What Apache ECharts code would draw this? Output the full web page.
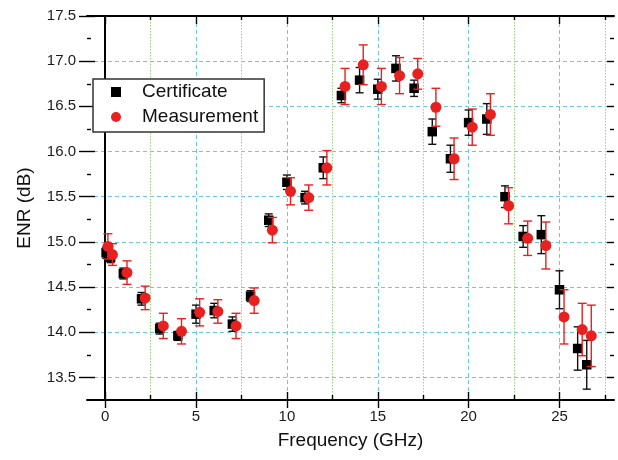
<!DOCTYPE html>
<html>
<head>
<meta charset="utf-8">
<script src="https://cdn.jsdelivr.net/npm/echarts@6/dist/echarts.min.js"></script>
<style>
  html, body { margin: 0; padding: 0; background: #fff; }
  #chart { width: 618px; height: 460px; }
</style>
</head>
<body>
<div id="chart"></div>
<script>
const FONT = 'Liberation Sans, Arial, sans-serif'

// Certificate (black squares)
const certFreq = [0.05, 0.3, 1, 2, 3, 4, 5, 6, 7, 8, 9, 10, 11, 12, 13, 14, 15, 16, 17, 18, 19, 20, 21, 22, 23, 24, 25, 26, 26.5]
const certENR = [14.88, 14.83, 14.65, 14.37, 14.04, 13.96, 14.2, 14.24, 14.09, 14.4, 15.24, 15.66, 15.49, 15.82, 16.62, 16.79, 16.69, 16.92, 16.7, 16.22, 15.92, 16.32, 16.36, 15.5, 15.06, 15.08, 14.47, 13.82, 13.64]
const certErr = [0.06, 0.06, 0.06, 0.07, 0.06, 0.05, 0.1, 0.08, 0.08, 0.06, 0.07, 0.08, 0.07, 0.12, 0.08, 0.14, 0.11, 0.14, 0.09, 0.14, 0.15, 0.14, 0.17, 0.12, 0.12, 0.21, 0.21, 0.24, 0.27]

// Measurement (red circles)
const measFreq = [0.15, 0.4, 1.2, 2.2, 3.2, 4.2, 5.2, 6.2, 7.2, 8.2, 9.2, 10.2, 11.2, 12.2, 13.2, 14.2, 15.2, 16.2, 17.2, 18.2, 19.2, 20.2, 21.2, 22.2, 23.25, 24.25, 25.25, 26.25, 26.75]
const measENR = [14.95, 14.86, 14.66, 14.38, 14.07, 14.01, 14.22, 14.23, 14.07, 14.35, 15.13, 15.56, 15.49, 15.82, 16.72, 16.96, 16.72, 16.84, 16.86, 16.49, 15.92, 16.27, 16.41, 15.4, 15.04, 14.96, 14.17, 14.03, 13.96]
const measErr = [0.14, 0.12, 0.13, 0.13, 0.14, 0.14, 0.15, 0.13, 0.14, 0.14, 0.14, 0.15, 0.14, 0.19, 0.2, 0.22, 0.2, 0.2, 0.17, 0.21, 0.23, 0.2, 0.23, 0.2, 0.19, 0.26, 0.3, 0.29, 0.34]

const xRange = [-1, 28]
const yRange = [13.25, 17.5]
const xMajor = [0, 25, 5]     // min, max, step of labelled ticks
const xMinor = [2.5, 27.5, 5] // green dotted lines
const yMajor = [13.5, 17.5, 0.5]

const CYAN = '#6cc9dc'
const GREEN = '#9ad57f'
const RED = '#e8201f'

// plot box in pixels
const L = 87, R = 4, T = 16, B = 60
const pw = 618 - L - R, ph = 460 - T - B
const kx = pw / (xRange[1] - xRange[0])
const ky = ph / (yRange[1] - yRange[0])

const points = (xs, ys) => xs.map((x, i) => [x, ys[i]])
const bars = (xs, ys, es) => xs.map((x, i) => [x, ys[i], ys[i] - es[i], ys[i] + es[i]])

function errorBar(color, cap) {
  return function (params, api) {
    const x = api.value(0)
    const lo = api.coord([x, api.value(2)])
    const hi = api.coord([x, api.value(3)])
    const style = { stroke: color, lineWidth: 1.4 }
    return {
      type: 'group',
      children: [
        { type: 'line', shape: { x1: lo[0], y1: lo[1], x2: hi[0], y2: hi[1] }, style },
        { type: 'line', shape: { x1: lo[0] - cap, y1: lo[1], x2: lo[0] + cap, y2: lo[1] }, style },
        { type: 'line', shape: { x1: hi[0] - cap, y1: hi[1], x2: hi[0] + cap, y2: hi[1] }, style },
      ],
    }
  }
}

const label = { fontFamily: FONT, fontSize: 15, color: '#1a1a1a' }
const tick = (inside, length) => ({ show: true, inside, length, lineStyle: { color: '#000', width: 1.4 } })
const boxLine = { show: true, lineStyle: { color: '#000', width: 2 } }
const off = { show: false }

const myChart = echarts.init(document.getElementById('chart'))

const options = {
  animation: false,
  grid: [
    // main grid with data
    { left: L, right: R, top: T, bottom: B, outerBoundsMode: 'none', containLabel: false },
    // labelled x ticks and cyan verticals
    { left: L + (xMajor[0] - xRange[0]) * kx, right: R + (xRange[1] - xMajor[1]) * kx, top: T, bottom: B, outerBoundsMode: 'none', containLabel: false },
    // green dotted verticals
    { left: L + (xMinor[0] - xRange[0]) * kx, right: R + (xRange[1] - xMinor[1]) * kx, top: T, bottom: B, outerBoundsMode: 'none', containLabel: false },
    // labelled y ticks and cyan horizontals
    { left: L, right: R, top: T + (yRange[1] - yMajor[1]) * ky, bottom: B + (yMajor[0] - yRange[0]) * ky, outerBoundsMode: 'none', containLabel: false },
  ],
  legend: {
    orient: 'vertical',
    left: 93,
    top: 79,
    padding: [2, 6, 4, 18],
    itemWidth: 10,
    itemHeight: 10,
    itemGap: 3,
    backgroundColor: '#fff',
    borderColor: '#333',
    borderWidth: 1.5,
    textStyle: { fontFamily: FONT, fontSize: 19, color: '#111', lineHeight: 22, padding: [0, 0, 0, 16] },
    data: [
      { name: 'Certificate', icon: 'rect' },
      { name: 'Measurement', icon: 'circle' },
    ],
  },
  xAxis: [
    {
      type: 'value', gridIndex: 0, position: 'bottom', min: xRange[0], max: xRange[1], z: 3,
      axisLine: boxLine, axisTick: off, axisLabel: off, splitLine: off,
      name: 'Frequency (GHz)', nameLocation: 'middle', nameGap: 31,
      nameTextStyle: { fontFamily: FONT, fontSize: 19, color: '#111' },
    },
    { type: 'value', gridIndex: 0, position: 'top', min: xRange[0], max: xRange[1], z: 3, axisLine: boxLine, axisTick: off, axisLabel: off, splitLine: off },
    {
      type: 'value', gridIndex: 1, position: 'bottom', min: xMajor[0], max: xMajor[1], interval: xMajor[2],
      axisLine: off, axisTick: tick(true, 8), axisLabel: { ...label, margin: 9 },
      splitLine: { show: true, lineStyle: { color: CYAN, type: [4, 3], width: 1 } },
    },
    { type: 'value', gridIndex: 1, position: 'bottom', min: xMajor[0], max: xMajor[1], interval: xMajor[2], axisLine: off, axisTick: tick(false, 8), axisLabel: off, splitLine: off },
    { type: 'value', gridIndex: 1, position: 'top', min: xMajor[0], max: xMajor[1], interval: xMajor[2], axisLine: off, axisTick: tick(true, 8), axisLabel: off, splitLine: off },
    {
      type: 'value', gridIndex: 2, position: 'bottom', min: xMinor[0], max: xMinor[1], interval: xMinor[2],
      axisLine: off, axisTick: tick(true, 5), axisLabel: off,
      splitLine: { show: true, lineStyle: { color: GREEN, type: [1.5, 1.5], width: 1 } },
    },
    { type: 'value', gridIndex: 2, position: 'top', min: xMinor[0], max: xMinor[1], interval: xMinor[2], axisLine: off, axisTick: tick(true, 4), axisLabel: off, splitLine: off },
    { type: 'value', gridIndex: 3, show: false, min: 0, max: 1 },
  ],
  yAxis: [
    {
      type: 'value', gridIndex: 0, position: 'left', min: yRange[0], max: yRange[1], z: 3,
      axisLine: boxLine, axisTick: off, axisLabel: off, splitLine: off,
      name: 'ENR (dB)', nameLocation: 'middle', nameGap: 53,
      nameTextStyle: { fontFamily: FONT, fontSize: 19, color: '#111' },
    },
    { type: 'value', gridIndex: 0, position: 'right', min: yRange[0], max: yRange[1], z: 3, axisLine: boxLine, axisTick: off, axisLabel: off, splitLine: off },
    { type: 'value', gridIndex: 1, show: false, min: 0, max: 1 },
    { type: 'value', gridIndex: 2, show: false, min: 0, max: 1 },
    {
      type: 'value', gridIndex: 3, position: 'left', min: yMajor[0], max: yMajor[1], interval: yMajor[2],
      axisLine: off, axisTick: tick(false, 8),
      axisLabel: { ...label, margin: 11, formatter: (v) => v.toFixed(1) },
      splitLine: { show: true, lineStyle: { color: CYAN, type: [4, 3], width: 1 } },
    },
    {
      type: 'value', gridIndex: 3, position: 'left', min: yMajor[0], max: yMajor[1], interval: yMajor[2],
      axisLine: off, axisTick: tick(true, 8), axisLabel: off, splitLine: off,
      minorTick: { show: true, splitNumber: 2, length: 4, lineStyle: { color: '#000', width: 1.4 } },
    },
    {
      type: 'value', gridIndex: 3, position: 'right', min: yMajor[0], max: yMajor[1], interval: yMajor[2],
      axisLine: off, axisTick: tick(true, 7), axisLabel: off, splitLine: off,
      minorTick: { show: true, splitNumber: 2, length: 4, lineStyle: { color: '#000', width: 1.4 } },
    },
  ],
  series: [
    {
      name: 'CertificateErr', type: 'custom', xAxisIndex: 0, yAxisIndex: 0, z: 2,
      renderItem: errorBar('#111', 4), data: bars(certFreq, certENR, certErr),
    },
    {
      name: 'Certificate', type: 'scatter', xAxisIndex: 0, yAxisIndex: 0, z: 3,
      symbol: 'rect', symbolSize: 9.5, itemStyle: { color: '#000', opacity: 1 },
      data: points(certFreq, certENR),
    },
    {
      name: 'MeasurementErr', type: 'custom', xAxisIndex: 0, yAxisIndex: 0, z: 4,
      renderItem: errorBar(RED, 4.5), data: bars(measFreq, measENR, measErr),
    },
    {
      name: 'Measurement', type: 'scatter', xAxisIndex: 0, yAxisIndex: 0, z: 5,
      symbol: 'circle', symbolSize: 11, itemStyle: { color: RED, opacity: 1 },
      data: points(measFreq, measENR),
    },
  ],
}

myChart.setOption(options)
</script>
</body>
</html>
